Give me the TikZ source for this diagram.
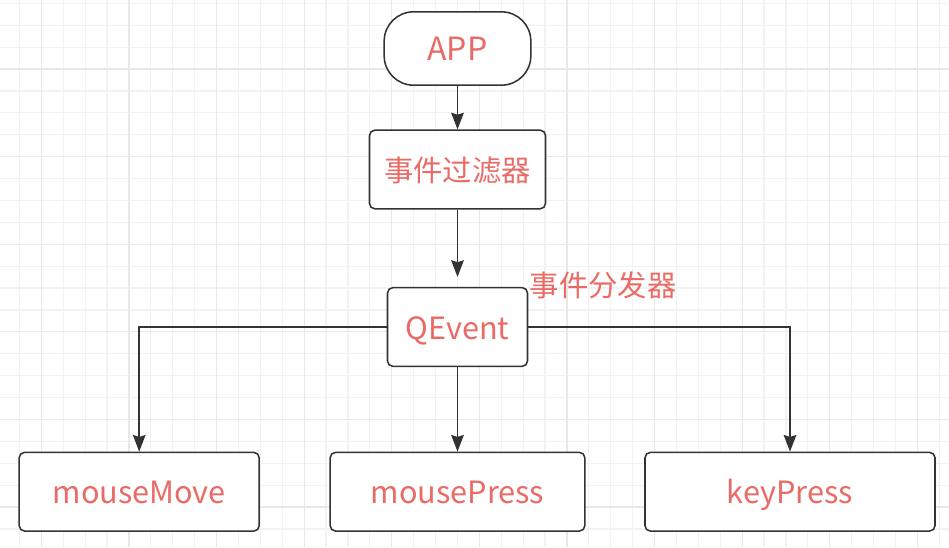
\documentclass[tikz,border=0pt]{standalone}
\usepackage{fontspec}
\setmainfont{Noto Sans CJK SC}
\usetikzlibrary{arrows.meta}
\definecolor{txtred}{HTML}{EA6B66}
\definecolor{edgegray}{HTML}{333333}
\definecolor{gridminor}{HTML}{F2F2F2}
\definecolor{gridmajor}{HTML}{E8E8E8}
\tikzset{
  box/.style={draw=edgegray, line width=1.15pt, rounded corners=4pt, fill=white,
    text=txtred, font=\fontsize{23}{26}\selectfont, inner sep=0pt,
    text height=18pt, text depth=0pt},
  link/.style={draw=edgegray, line width=1.1pt, ->},
}

\begin{document}
\begin{tikzpicture}[x=0.75pt, y=-0.75pt, >={Stealth[length=12.5pt, width=9.5pt, inset=1.5pt]}]
  \useasboundingbox (0,0) rectangle (949,547);
  \fill[white] (0,0) rectangle (949,547);
  % grid
  \begin{scope}
    \clip (0,0) rectangle (949,547);
    \foreach \k in {0,...,42} \draw[gridminor, line width=0.9pt] ({19.4+21.9*\k},0) -- ++(0,547);
    \foreach \k in {0,...,24} \draw[gridminor, line width=0.9pt] (0,{3.3+21.9*\k}) -- ++(949,0);
    \foreach \k in {0,...,10} \draw[gridmajor, line width=0.9pt] ({41.3+87.6*\k},0) -- ++(0,547);
    \foreach \k in {-1,...,5} \draw[gridmajor, line width=0.9pt] (0,{69+87.6*\k}) -- ++(949,0);
  \end{scope}
  % nodes
  \node[box, rounded corners=22pt, font=\fontsize{24}{26}\selectfont, minimum width=110pt, minimum height=55pt] (app) at (457.5,48.5) {APP};
  \node[box, font=\fontsize{22}{26}\selectfont, minimum width=132pt, minimum height=59pt] (filter) at (457.5,169.5) {事件过滤器};
  \node[box, minimum width=105pt, minimum height=59pt] (qevent) at (457.5,327) {QEvent};
  \node[text=txtred, font=\fontsize{22}{26}\selectfont, inner sep=0pt] (dispatch) at (603,285) {事件分发器};
  \node[box, minimum width=180pt, minimum height=59pt] (mmove) at (139.2,491.7) {mouseMove};
  \node[box, minimum width=191pt, minimum height=59pt] (mpress) at (457.5,491.7) {mousePress};
  \node[box, minimum width=217.5pt, minimum height=59pt] (kpress) at (790,491.7) {keyPress};
  % connectors
  \draw[link] (app) -- (filter);
  \draw[link, shorten >=7.5pt] (filter) -- (qevent);
  \draw[link] (qevent) -- (mpress);
  \draw[link] (qevent.west) -| (mmove.north);
  \draw[link] (qevent.east) -| (kpress.north);
\end{tikzpicture}
\end{document}
